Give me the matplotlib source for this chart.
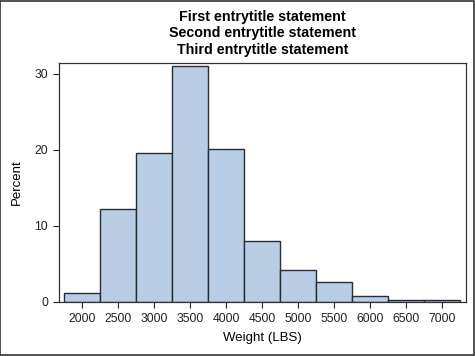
import matplotlib.pyplot as plt
import matplotlib.patches as mpatches

plt.rcParams['font.family'] = ['Liberation Sans', 'DejaVu Sans']

# histogram of weight, bins of 500 lbs centred on these values
bin_centers = [2000, 2500, 3000, 3500, 4000, 4500, 5000, 5500, 6000, 6500, 7000]
percents = [1.17, 12.15, 19.63, 31.07, 20.09, 7.94, 4.21, 2.57, 0.70, 0.23, 0.23]
bin_width = 500
xticks = [2000, 2500, 3000, 3500, 4000, 4500, 5000, 5500, 6000, 6500, 7000]
yticks = [0, 10, 20, 30]
titles = ['First entrytitle statement', 'Second entrytitle statement', 'Third entrytitle statement']

fig = plt.figure(figsize=(4.75, 3.56), dpi=100)
ax = fig.add_axes([59 / 475, 1 - 301.7 / 356, (466 - 59) / 475, (301.7 - 63.3) / 356])

ax.bar(bin_centers, percents, width=bin_width, color='#b9cde5', edgecolor='#2b2b33', linewidth=1.0, zorder=2)

ax.set_xlim(1685, 7329)
ax.set_ylim(0, 31.4)
ax.set_xticks(xticks)
ax.set_yticks(yticks)
ax.tick_params(labelsize=8.8, colors='#222222', length=4, width=0.8, pad=4)
for s in ax.spines.values():
    s.set_color('#333333')
    s.set_linewidth(0.9)

ax.set_xlabel('Weight (LBS)', fontsize=9.5, labelpad=5)
ax.set_ylabel('Percent', fontsize=9.5, labelpad=8)

for i, t in enumerate(titles):
    fig.text((59 + 466) / 2 / 475, 1 - (17 + 16.5 * i) / 356, t, ha='center', va='center',
             fontsize=10.3, fontweight='bold')

# outer frame
fig.patches.append(mpatches.Rectangle((0.001, 0.002), 0.997, 0.996, transform=fig.transFigure,
                                      fill=False, edgecolor='#333333', linewidth=1.2))

fig.savefig('out.png', dpi=100)
